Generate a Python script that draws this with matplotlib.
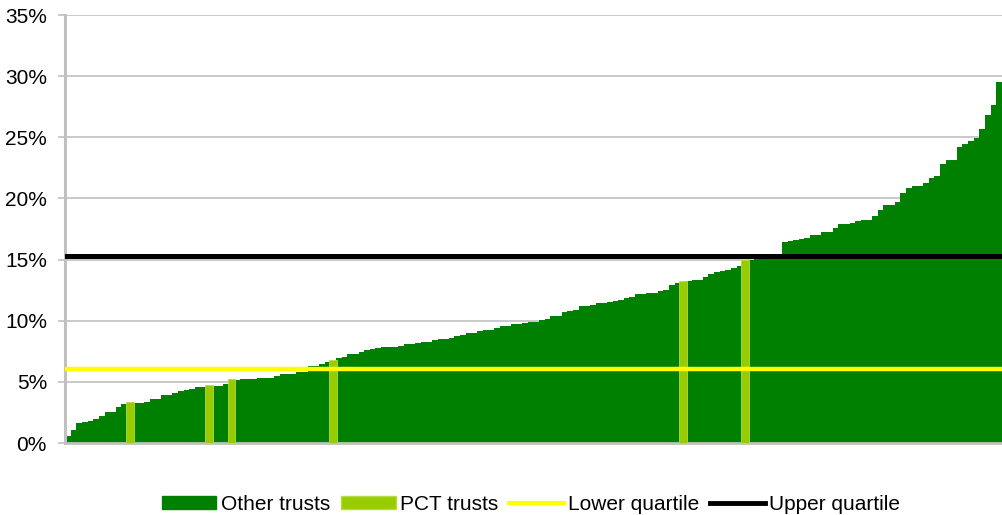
import numpy as np
import matplotlib
matplotlib.use('Agg')
import matplotlib.pyplot as plt
from matplotlib.lines import Line2D
from matplotlib.patches import Patch

plt.rcParams['font.family'] = ['Liberation Sans', 'DejaVu Sans']

# rate per trust (%), sorted ascending; PCT trusts flagged by position
rates = [
    0.57, 1.06, 1.64, 1.72, 1.80, 1.96, 2.20, 2.53, 2.53, 2.94,
    3.19, 3.35, 3.27, 3.27, 3.35, 3.60, 3.60, 3.93, 3.93, 4.09,
    4.26, 4.34, 4.42, 4.58, 4.58, 4.75, 4.66, 4.66, 4.83, 5.24,
    5.16, 5.24, 5.24, 5.24, 5.32, 5.32, 5.32, 5.48, 5.65, 5.65,
    5.65, 5.81, 5.81, 6.30, 6.30, 6.46, 6.63, 6.79, 6.96, 7.04,
    7.28, 7.28, 7.45, 7.61, 7.69, 7.77, 7.86, 7.86, 7.86, 7.94,
    8.10, 8.10, 8.18, 8.26, 8.26, 8.43, 8.51, 8.51, 8.59, 8.76,
    8.84, 9.00, 9.00, 9.17, 9.25, 9.25, 9.41, 9.57, 9.57, 9.74,
    9.74, 9.85, 9.90, 9.90, 10.07, 10.15, 10.39, 10.39, 10.72, 10.80,
    10.88, 11.21, 11.21, 11.29, 11.46, 11.46, 11.54, 11.62, 11.70, 11.87,
    11.95, 12.19, 12.19, 12.27, 12.27, 12.44, 12.52, 12.93, 13.09, 13.26,
    13.26, 13.34, 13.34, 13.58, 13.83, 13.99, 14.07, 14.16, 14.32, 14.48,
    14.98, 14.98, 15.06, 15.10, 15.15, 15.20, 15.25, 16.45, 16.53, 16.61,
    16.69, 16.77, 17.02, 17.02, 17.27, 17.27, 17.60, 17.92, 17.92, 18.00,
    18.17, 18.25, 18.25, 18.58, 19.07, 19.48, 19.48, 19.72, 20.46, 20.87,
    21.03, 21.03, 21.28, 21.69, 21.85, 22.83, 23.16, 23.16, 24.22, 24.47,
    24.71, 24.96, 25.70, 26.84, 27.66, 29.54,
]
pct_idx = [11, 25, 29, 47, 109, 120]
lower_quartile = 6.05
upper_quartile = 15.32
yticks = [0, 5, 10, 15, 20, 25, 30, 35]

rates = np.array(rates)
x = np.arange(len(rates))
is_pct = np.isin(x, pct_idx)
other = np.where(is_pct, 0, rates)

fig = plt.figure(figsize=(10.02, 5.15), dpi=100)
ax = fig.add_axes([0.0649, 0.1398, 0.9351, 0.831])

ax.bar(x, other, width=1.0, color='#008000', linewidth=0, antialiased=False, zorder=2)
ax.bar(x[is_pct], rates[is_pct], width=1.4, color='#99CC00', edgecolor='#B5DA4A',
       linewidth=0.6, zorder=3)
ax.axhline(lower_quartile, color='#FFFF00', lw=3.2, zorder=4)
ax.axhline(upper_quartile, color='#000000', lw=3.6, zorder=4)

ax.set_xlim(-0.5, len(rates) - 0.5)
ax.set_ylim(0, 35)
ax.set_yticks(yticks)
ax.set_yticklabels([f'{t}%' for t in yticks], fontsize=15)
ax.set_xticks([])
ax.yaxis.grid(True, color='#C0C0C0', lw=1.2, zorder=0)
ax.set_axisbelow(True)
for s in ['top', 'right']:
    ax.spines[s].set_visible(False)
ax.spines['left'].set_color('#C0C0C0')
ax.spines['left'].set_linewidth(2.2)
ax.spines['bottom'].set_color('#C0C0C0')
ax.spines['bottom'].set_linewidth(2.0)
ax.tick_params(axis='y', length=5, width=1.2, color='#C0C0C0', pad=8)

handles = [
    Patch(facecolor='#008000', edgecolor='#008000', label='Other trusts'),
    Patch(facecolor='#99CC00', edgecolor='#B5DA4A', label='PCT trusts'),
    Line2D([], [], color='#FFFF00', lw=3, label='Lower quartile'),
    Line2D([], [], color='#000000', lw=3.5, label='Upper quartile'),
]
fig.legend(handles=handles, loc='center', bbox_to_anchor=(0.530, 0.020), ncol=4,
           frameon=False, fontsize=15, handlelength=2.6, handleheight=0.6,
           handletextpad=0.2, columnspacing=0.55, borderpad=0)

fig.savefig('out.png', dpi=100)
plt.close(fig)
